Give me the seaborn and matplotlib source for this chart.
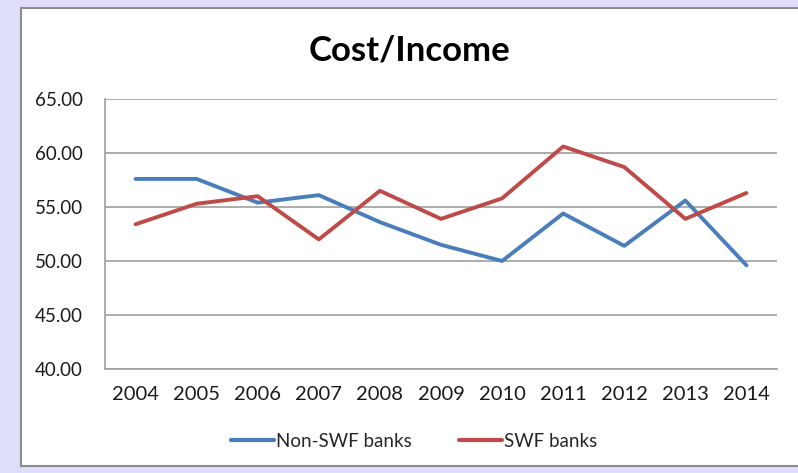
import matplotlib
matplotlib.use("Agg")
import matplotlib.pyplot as plt
import matplotlib.patches as patches
import seaborn as sns
import pandas as pd
import numpy as np

years = ["2004", "2005", "2006", "2007", "2008", "2009", "2010", "2011", "2012", "2013", "2014"]
non_swf = [57.6, 57.6, 55.4, 56.1, 53.6, 51.5, 50.0, 54.4, 51.4, 55.6, 49.6]
swf = [53.4, 55.3, 56.0, 52.0, 56.5, 53.9, 55.8, 60.6, 58.7, 53.9, 56.3]
series_names = ["Non-SWF banks", "SWF banks"]
colors = ["#4a7ebb", "#be4b48"]

sns.set_theme(style="white")
plt.rcParams["font.family"] = ["Lato", "DejaVu Sans"]

df = pd.DataFrame({
    "pos": list(range(len(years))) * 2,
    "value": non_swf + swf,
    "series": [series_names[0]] * len(years) + [series_names[1]] * len(years),
})

fig = plt.figure(figsize=(7.98, 4.73), dpi=100)
fig.patch.set_facecolor("#dedefa")

# white chart area with grey frame, kept behind the axes
fig.patches.append(patches.Rectangle((21 / 798, 1 - 466 / 473), 1.1, 458 / 473,
                                     transform=fig.transFigure, facecolor="white",
                                     edgecolor="#8c8c8c", linewidth=1.5, zorder=-5))

ax = fig.add_axes([105 / 798, 1 - 369 / 473, 672 / 798, 270 / 473])
ax.set_facecolor("none")

sns.lineplot(data=df, x="pos", y="value", hue="series", palette=colors,
             linewidth=2.8, ax=ax, legend=False)

ax.set_ylim(40, 65)
ax.set_yticks(np.arange(40, 66, 5))
ax.set_yticklabels([f"{v:.2f}" for v in np.arange(40, 66, 5)], fontsize=13.5)
ax.yaxis.grid(True, color="#a6a6a6", linewidth=1.3)
ax.set_axisbelow(True)

ax.set_xlim(-0.5, len(years) - 0.5)
ax.set_xticks(np.arange(-0.5, len(years), 1.0))
ax.set_xticklabels([])
ax.set_xticks(range(len(years)), minor=True)
ax.set_xticklabels(years, minor=True, fontsize=14.5)
ax.tick_params(axis="x", which="minor", length=0, pad=12)
ax.tick_params(axis="x", which="major", length=6, width=1.2, direction="out")
ax.tick_params(axis="y", length=6, width=1.2, direction="out", pad=10)
ax.tick_params(axis="both", which="both", color="#a6a6a6", labelcolor="#1a1a1a")

for s in ["top", "right"]:
    ax.spines[s].set_visible(False)
for s in ["left", "bottom"]:
    ax.spines[s].set_color("#a6a6a6")
    ax.spines[s].set_linewidth(1.3)

ax.set_xlabel("")
ax.set_ylabel("")

fig.text(409 / 798, 1 - 50 / 473, "Cost/Income", ha="center", va="center",
         fontsize=25, fontweight="bold", color="#000000")

handles = [plt.Line2D([], [], color=c, linewidth=3.0) for c in colors]
fig.legend(handles, series_names, loc="center", bbox_to_anchor=(414 / 798, 1 - 441 / 473),
           ncol=2, frameon=False, fontsize=13.5, handlelength=2.3, handletextpad=0.1,
           columnspacing=2.5)

fig.savefig("out.png", dpi=100, facecolor=fig.get_facecolor())
